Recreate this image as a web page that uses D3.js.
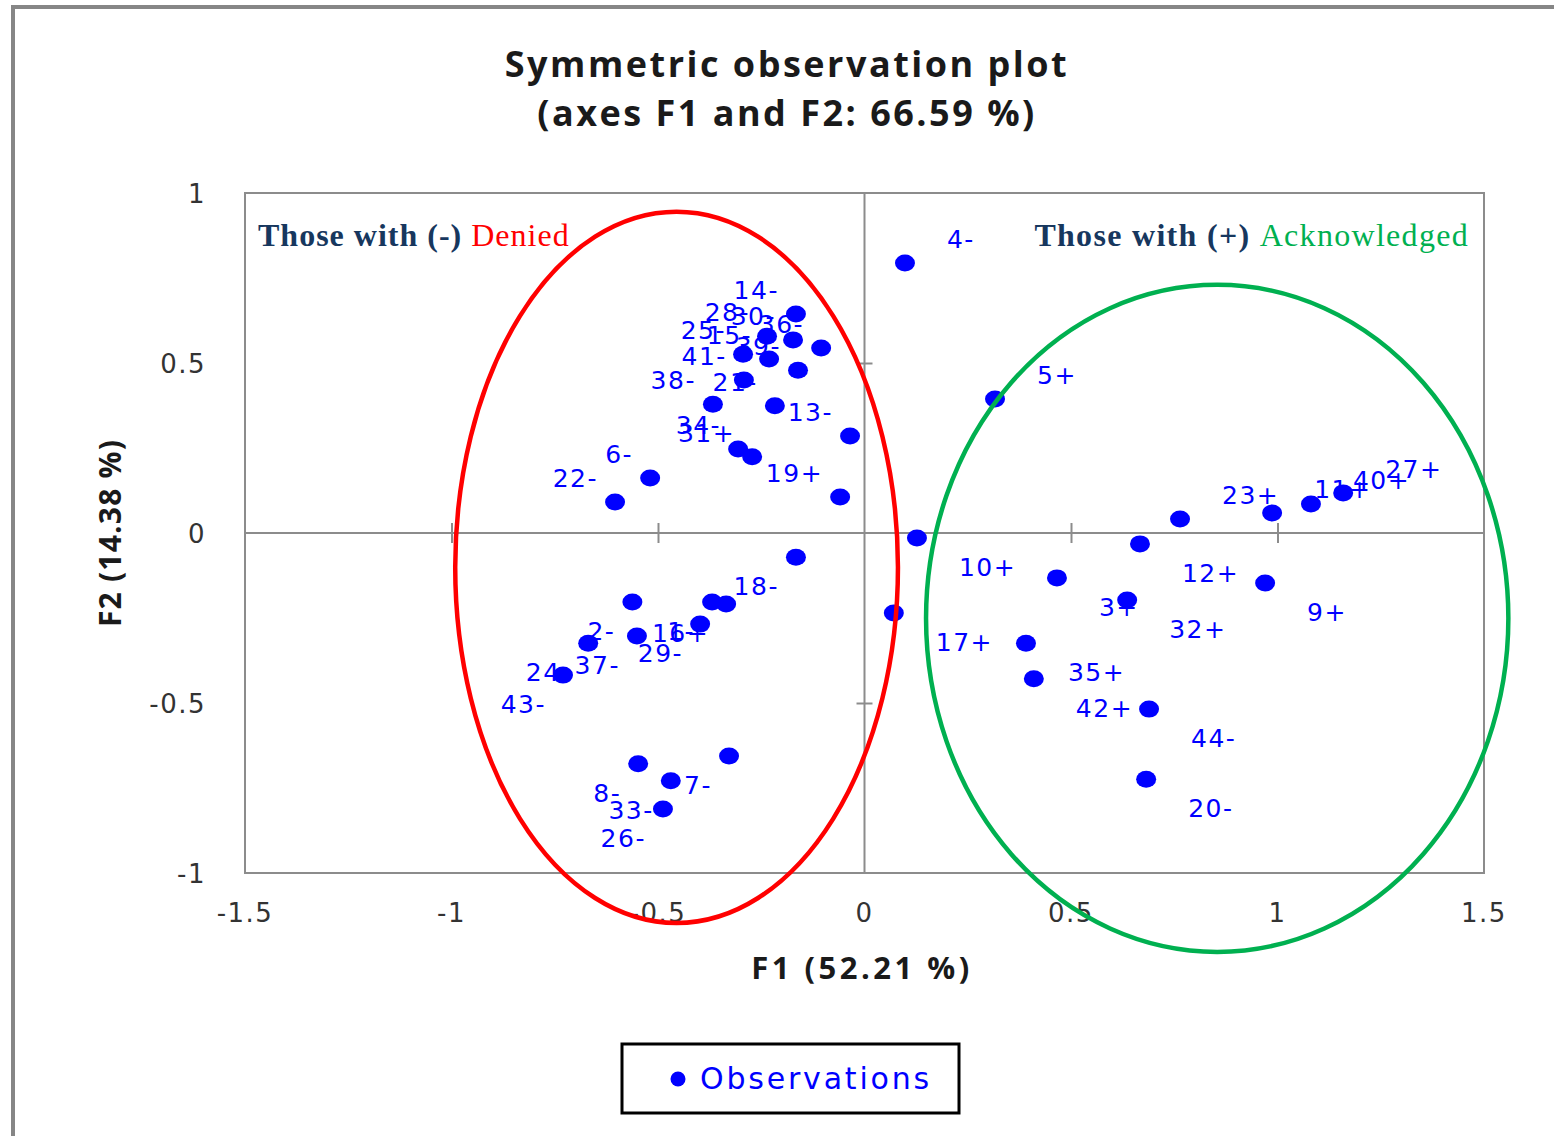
<!DOCTYPE html>
<html>
<head>
<meta charset="utf-8">
<script src="https://cdn.jsdelivr.net/npm/d3@7"></script>
<style>
  body { margin: 0; background: #ffffff; }
  svg { display: block; }
</style>
</head>
<body>
<div id="container"></div>
<script>
/* Observations : nom, coordonnée F1, coordonnée F2 */
const obsLabels = ["4-", "14-", "30-", "28-", "25-", "15-", "36-", "39-", "41-", "38-", "21-", "13-",
  "34-", "31+", "6-", "22-", "19+", "5+", "23+", "11+", "40+", "27+",
  "12+", "10+", "3+", "32+", "9+", "17+", "35+", "42+", "44-", "20-",
  "18-", "2-", "1-", "16+", "29-", "37-", "24-", "43-", "8-", "33-", "7-", "26-"];
const f1Values = [0.098, -0.166, -0.173, -0.236, -0.294, -0.231, -0.105, -0.161, -0.292, -0.367, -0.217, -0.035,
  -0.306, -0.272, -0.519, -0.604, -0.059, 0.316, 0.764, 0.987, 1.081, 1.159,
  0.667, 0.127, 0.466, 0.636, 0.970, 0.071, 0.391, 0.410, 0.689, 0.682,
  -0.166, -0.562, -0.369, -0.335, -0.398, -0.551, -0.669, -0.730, -0.548, -0.469, -0.328, -0.488];
const f2Values = [0.794, 0.644, 0.568, 0.579, 0.526, 0.512, 0.544, 0.479, 0.450, 0.379, 0.374, 0.285,
  0.247, 0.224, 0.162, 0.091, 0.106, 0.394, 0.041, 0.059, 0.085, 0.118,
  -0.032, -0.015, -0.132, -0.197, -0.147, -0.235, -0.324, -0.429, -0.518, -0.724,
  -0.071, -0.203, -0.203, -0.209, -0.268, -0.303, -0.324, -0.418, -0.679, -0.729, -0.656, -0.812];

/* Graduations */
const xTicks = [-1.5, -1, -0.5, 0, 0.5, 1, 1.5];
const yTicks = [-1, -0.5, 0, 0.5, 1];

/* Ellipses de regroupement : centre et rayons en unités des axes */
const groupNames = ["Denied", "Acknowledged"];
const groupCx = [-0.455, 0.854];
const groupCy = [-0.101, -0.251];
const groupRx = [0.536, 0.705];
const groupRy = [1.046, 0.981];
const groupColors = ["#ff0000", "#00b050"];

const fontPolice = "'DejaVu Sans', Verdana, sans-serif";
const titlePolice = "'Open Sans', 'Liberation Sans', sans-serif";
const serifPolice = "'Liberation Serif', 'DejaVu Serif', serif";

const width = 1554, height = 1136;
const plotLeft = 245, plotRight = 1484, plotTop = 193, plotBottom = 873;

const svg = d3.select("#container").append("svg")
  .attr("width", width)
  .attr("height", height);

svg.append("rect").attr("width", width).attr("height", height).attr("fill", "#ffffff");

/* Cadre extérieur (coupé à droite et en bas) */
svg.append("rect")
  .attr("x", 13).attr("y", 7)
  .attr("width", width + 20).attr("height", height + 20)
  .attr("fill", "none")
  .attr("stroke", "#868686")
  .attr("stroke-width", 4);

const x = d3.scaleLinear().domain([-1.5, 1.5]).range([plotLeft, plotRight]);
const y = d3.scaleLinear().domain([-1, 1]).range([plotBottom, plotTop]);

/* Titre */
svg.append("text")
  .attr("x", 787).attr("y", 77)
  .attr("text-anchor", "middle")
  .style("font-family", titlePolice)
  .style("font-weight", "bold")
  .style("font-size", "36px")
  .style("letter-spacing", "2.5px")
  .style("fill", "#1a1a1a")
  .text("Symmetric observation plot");
svg.append("text")
  .attr("x", 787).attr("y", 126)
  .attr("text-anchor", "middle")
  .style("font-family", titlePolice)
  .style("font-weight", "bold")
  .style("font-size", "36px")
  .style("letter-spacing", "2.5px")
  .style("fill", "#1a1a1a")
  .text("(axes F1 and F2: 66.59 %)");

/* Zone du graphe */
svg.append("rect")
  .attr("x", plotLeft).attr("y", plotTop)
  .attr("width", plotRight - plotLeft).attr("height", plotBottom - plotTop)
  .attr("fill", "#ffffff")
  .attr("stroke", "#8c8c8c")
  .attr("stroke-width", 2);

/* Axes passant par l'origine */
const xAxis = d3.axisBottom(x).tickValues(xTicks.filter(d => d > -1.5 && d < 1.5 && d !== 0))
  .tickSize(20).tickSizeOuter(0).tickFormat("");
const yAxis = d3.axisLeft(y).tickValues(yTicks.filter(d => d > -1 && d < 1 && d !== 0))
  .tickSize(16).tickSizeOuter(0).tickFormat("");

const gx = svg.append("g")
  .attr("transform", "translate(0," + (y(0) - 10) + ")")
  .call(xAxis);
gx.select(".domain").remove();
gx.selectAll("line").attr("stroke", "#8c8c8c").attr("stroke-width", 2);

const gy = svg.append("g")
  .attr("transform", "translate(" + (x(0) + 8) + ",0)")
  .call(yAxis);
gy.select(".domain").remove();
gy.selectAll("line").attr("stroke", "#8c8c8c").attr("stroke-width", 2);

svg.append("line")
  .attr("x1", plotLeft).attr("x2", plotRight)
  .attr("y1", y(0)).attr("y2", y(0))
  .attr("stroke", "#8c8c8c").attr("stroke-width", 2);
svg.append("line")
  .attr("x1", x(0)).attr("x2", x(0))
  .attr("y1", plotTop).attr("y2", plotBottom)
  .attr("stroke", "#8c8c8c").attr("stroke-width", 2);

/* Libellés des graduations (position basse, hors du cadre) */
svg.append("g").selectAll("text")
  .data(xTicks)
  .enter().append("text")
    .attr("x", d => x(d))
    .attr("y", plotBottom + 49)
    .attr("text-anchor", "middle")
    .style("font-family", fontPolice)
    .style("font-size", "26px")
    .style("letter-spacing", "1.5px")
    .style("fill", "#333333")
    .text(d => d3.format("")(d).replace("−", "-"));

svg.append("g").selectAll("text")
  .data(yTicks)
  .enter().append("text")
    .attr("x", 206)
    .attr("y", d => y(d) + 10)
    .attr("text-anchor", "end")
    .style("font-family", fontPolice)
    .style("font-size", "26px")
    .style("letter-spacing", "1.5px")
    .style("fill", "#333333")
    .text(d => d3.format("")(d).replace("−", "-"));

/* Titres des axes */
svg.append("text")
  .attr("x", 862).attr("y", 979)
  .attr("text-anchor", "middle")
  .style("font-family", titlePolice)
  .style("font-weight", "bold")
  .style("font-size", "31px")
  .style("letter-spacing", "3.5px")
  .style("fill", "#1a1a1a")
  .text("F1 (52.21 %)");
svg.append("text")
  .attr("transform", "translate(121,533) rotate(-90)")
  .attr("text-anchor", "middle")
  .style("font-family", titlePolice)
  .style("font-weight", "bold")
  .style("font-size", "30px")
  .style("letter-spacing", "1.2px")
  .style("fill", "#1a1a1a")
  .text("F2 (14.38 %)");

/* Annotations */
const noteLeft = svg.append("text")
  .attr("x", 258).attr("y", 246)
  .style("font-family", serifPolice)
  .style("font-size", "32px")
  .style("letter-spacing", "1px");
noteLeft.append("tspan").style("font-weight", "bold").style("fill", "#17375e").text("Those with (-) ");
noteLeft.append("tspan").style("fill", groupColors[0]).text(groupNames[0]);

const noteRight = svg.append("text")
  .attr("x", 1469).attr("y", 246)
  .attr("text-anchor", "end")
  .style("font-family", serifPolice)
  .style("font-size", "32px")
  .style("letter-spacing", "1.3px");
noteRight.append("tspan").style("font-weight", "bold").style("fill", "#17375e").text("Those with (+) ");
noteRight.append("tspan").style("fill", groupColors[1]).text(groupNames[1]);

/* Observations */
const obs = obsLabels.map((name, i) => ({ name: name, f1: f1Values[i], f2: f2Values[i] }));

svg.append("g").selectAll("ellipse")
  .data(obs)
  .enter().append("ellipse")
    .attr("cx", d => x(d.f1))
    .attr("cy", d => y(d.f2))
    .attr("rx", 10)
    .attr("ry", 8.5)
    .attr("fill", "#0000ff");

svg.append("g").selectAll("text")
  .data(obs)
  .enter().append("text")
    .attr("x", d => d.f1 > 0 ? x(d.f1) + 42 : x(d.f1) - 17)
    .attr("y", d => d.f2 > 0 ? y(d.f2) - 24 + 9 : y(d.f2) + 29 + 9)
    .attr("text-anchor", d => d.f1 > 0 ? "start" : "end")
    .style("font-family", fontPolice)
    .style("font-size", "25px")
    .style("letter-spacing", "1.5px")
    .style("fill", "#0000ff")
    .text(d => d.name);

/* Ellipses de regroupement */
svg.append("g").selectAll("ellipse")
  .data(groupNames)
  .enter().append("ellipse")
    .attr("cx", (d, i) => x(groupCx[i]))
    .attr("cy", (d, i) => y(groupCy[i]))
    .attr("rx", (d, i) => x(groupRx[i]) - x(0))
    .attr("ry", (d, i) => y(0) - y(groupRy[i]))
    .attr("fill", "none")
    .attr("stroke", (d, i) => groupColors[i])
    .attr("stroke-width", 4.5);

/* Légende */
svg.append("rect")
  .attr("x", 622).attr("y", 1044)
  .attr("width", 337).attr("height", 69)
  .attr("fill", "#ffffff")
  .attr("stroke", "#000000")
  .attr("stroke-width", 3);
svg.append("circle")
  .attr("cx", 678).attr("cy", 1079)
  .attr("r", 7.5)
  .attr("fill", "#0000ff");
svg.append("text")
  .attr("x", 700).attr("y", 1089)
  .style("font-family", fontPolice)
  .style("font-size", "30px")
  .style("letter-spacing", "2.8px")
  .style("fill", "#0000ff")
  .text("Observations");
</script>
</body>
</html>
